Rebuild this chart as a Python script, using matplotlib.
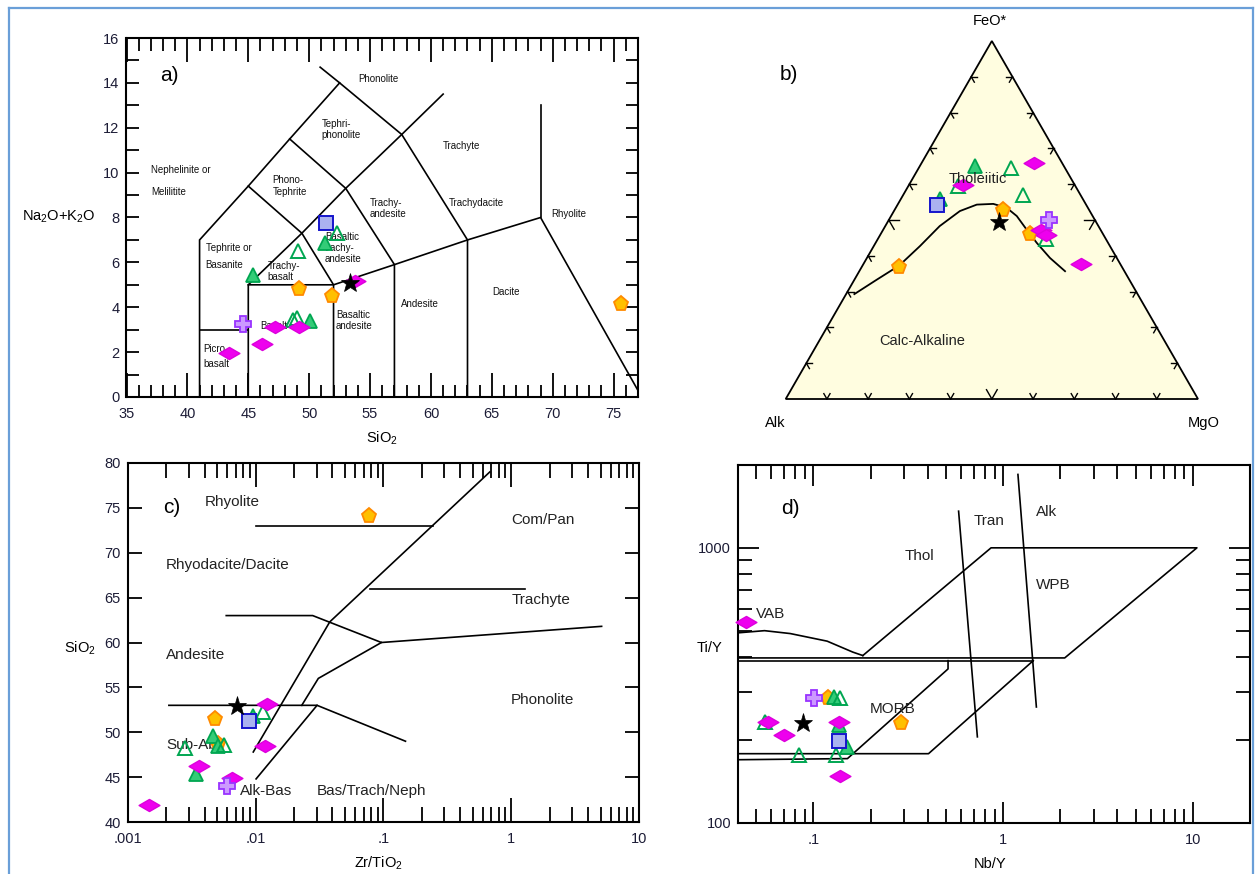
import numpy as np
import matplotlib
matplotlib.use('Agg')
from matplotlib import pyplot as plt
from matplotlib.path import Path
from matplotlib.patches import Polygon
from matplotlib.lines import Line2D
from matplotlib.ticker import MultipleLocator, LogLocator, FuncFormatter, NullFormatter

plt.rcParams['font.family'] = ['Liberation Sans', 'DejaVu Sans']
plt.rcParams['mathtext.fontset'] = 'custom'
plt.rcParams['mathtext.rm'] = 'Liberation Sans'
plt.rcParams['mathtext.default'] = 'regular'

W, H = 1257, 874
TICK_COLOR = '#1c1c36'

# ---------------- a) TAS: SiO2 vs Na2O+K2O ----------------
tas_lines = [
    [(41, 0), (41, 7), (45, 9.4), (48.4, 11.5), (52.5, 14), (57.6, 11.7), (63, 7), (63, 0)],
    [(50.9, 14.7), (52.5, 14)],
    [(41, 3), (45, 3)],
    [(45, 0), (45, 5), (49.4, 7.3), (53, 9.3), (57.6, 11.7), (61, 13.5)],
    [(45, 9.4), (49.4, 7.3), (52, 5), (52, 0)],
    [(45, 5), (52, 5), (57, 5.9), (63, 7), (69, 8), (77.3, 0)],
    [(48.4, 11.5), (53, 9.3), (57, 5.9), (57, 0)],
    [(69, 8), (69, 13)],
]
tas_labels = [
    ("Phonolite", 54.0, 14.16),
    ("Tephri-", 51.0, 12.17), ("phonolite", 51.0, 11.67),
    ("Trachyte", 61.0, 11.18),
    ("Nephelinite or", 37.0, 10.13), ("Melilitite", 37.0, 9.13),
    ("Phono-", 47.0, 9.67), ("Tephrite", 47.0, 9.13),
    ("Trachy-", 55.0, 8.63), ("andesite", 55.0, 8.14),
    ("Trachydacite", 61.5, 8.65),
    ("Rhyolite", 69.9, 8.14),
    ("Basaltic", 51.3, 7.14), ("trachy-", 51.3, 6.63), ("andesite", 51.3, 6.14),
    ("Tephrite or", 41.5, 6.63), ("Basanite", 41.5, 5.88),
    ("Trachy-", 46.6, 5.84), ("basalt", 46.6, 5.36),
    ("Andesite", 57.5, 4.14),
    ("Dacite", 65.0, 4.67),
    ("Basaltic", 52.2, 3.65), ("andesite", 52.2, 3.16),
    ("Basalt", 46.0, 3.16),
    ("Picro-", 41.3, 2.14), ("basalt", 41.3, 1.46),
]
a_diamond_x = [43.4, 46.1, 47.2, 49.2, 53.8]
a_diamond_y = [1.95, 2.38, 3.13, 3.13, 5.18]
a_trifill_x = [45.4, 51.3, 50.1]
a_trifill_y = [5.44, 6.86, 3.40]
a_triopen_x = [49.1, 52.3, 48.7, 49.0]
a_triopen_y = [6.52, 7.29, 3.43, 3.51]
a_pent_x = [49.2, 51.85, 75.6]
a_pent_y = [4.8, 4.5, 4.13]
a_plus_x, a_plus_y = [44.55], [3.26]
a_square_x, a_square_y = [51.38], [7.74]
a_star_x, a_star_y = [53.35], [5.09]

# ---------------- b) AFM ternary (Alk, FeO*, MgO in %) ----------------
afm_curve_A = [68.7, 61.3, 53.8, 46.1, 38.5, 31.5, 26.5, 22.4, 19.7, 18.4, 17.9, 17.3, 16.2, 14.4]
afm_curve_F = [29.3, 33.3, 37.3, 42.7, 48.3, 52.5, 54.3, 54.5, 53.4, 51.1, 47.3, 43.6, 39.4, 35.7]
afm_curve_M = [2.0, 5.4, 8.9, 11.2, 13.2, 16.0, 19.2, 23.1, 26.9, 30.5, 34.8, 39.1, 44.4, 49.9]
b_diamond = dict(A=[6.8, 27.1, 14.4, 14.1, 9.5], F=[65.8, 59.9, 47.3, 45.7, 37.8], M=[27.4, 13.0, 38.3, 40.2, 52.7])
b_trifill = dict(A=[21.6, 34.6], F=[65.1, 56.0], M=[13.3, 9.4])
b_triopen = dict(A=[13.1, 28.4, 13.8, 14.6], F=[64.6, 59.5, 57.1, 44.7], M=[22.3, 12.1, 29.1, 40.7])
b_pent = dict(A=[20.9, 17.7, 54.1], F=[52.7, 46.1, 36.8], M=[26.4, 36.2, 9.1])
b_plus = dict(A=[11.2], F=[49.9], M=[38.9])
b_square = dict(A=[36.2], F=[54.3], M=[9.5])
b_star = dict(A=[23.6], F=[49.4], M=[27.0])

# ---------------- c) Zr/TiO2 vs SiO2 ----------------
wf_lines = [
    [(0.01, 73), (0.245, 73)],
    [(0.0096, 47.8), (0.0381, 62.3), (0.68, 79)],
    [(0.0785, 66), (1.28, 66)],
    [(0.0059, 63), (0.028, 63), (0.0966, 60), (5.1, 61.8)],
    [(0.023, 53), (0.031, 56), (0.0966, 60)],
    [(0.0021, 53), (0.0303, 53), (0.149, 49)],
    [(0.0101, 44.8), (0.0303, 53)],
]
wf_labels = [
    ("Rhyolite", 0.0040, 75.6), ("Com/Pan", 1.0, 73.6),
    ("Rhyodacite/Dacite", 0.002, 68.6), ("Trachyte", 1.0, 64.7),
    ("Andesite", 0.002, 58.6), ("Phonolite", 1.0, 53.6),
    ("Sub-Ab", 0.002, 48.6), ("Alk-Bas", 0.0075, 43.5),
    ("Bas/Trach/Neph", 0.0303, 43.5),
]
c_diamond_x = [0.00148, 0.00361, 0.00652, 0.0122, 0.0119]
c_diamond_y = [41.9, 46.2, 44.9, 53.2, 48.5]
c_trifill_x = [0.00463, 0.0034, 0.0096, 0.0051]
c_trifill_y = [49.6, 45.35, 51.8, 48.5]
c_triopen_x = [0.0057, 0.00281, 0.0115]
c_triopen_y = [48.6, 48.2, 52.3]
c_pent_x = [0.0775, 0.00482, 0.00512]
c_pent_y = [74.1, 51.5, 48.7]
c_plus_x, c_plus_y = [0.00602], [44.0]
c_square_x, c_square_y = [0.00889], [51.2]
c_star_x, c_star_y = [0.00713], [52.9]

# ---------------- d) Nb/Y vs Ti/Y ----------------
pearce_lines = [
    [(0.04, 398), (2.11, 398), (10.5, 1000), (0.863, 1000), (0.182, 406)],
    [(0.04, 491), (0.0552, 500), (0.0755, 488), (0.118, 458), (0.161, 418), (0.182, 406)],
    [(0.04, 389), (1.44, 389)],
    [(0.04, 178.6), (0.404, 178.6), (1.44, 389)],
    [(0.04, 169.8), (0.151, 171.4), (0.512, 363), (0.512, 389)],
    [(0.582, 1359), (0.731, 205.6)],
    [(1.196, 1848), (1.496, 264)],
]
pearce_labels = [
    ("Tran", 0.697, 1250), ("Alk", 1.496, 1352), ("Thol", 0.302, 933),
    ("WPB", 1.496, 730), ("VAB", 0.05, 573), ("MORB", 0.199, 260),
]
d_diamond_x = [0.044, 0.0577, 0.070, 0.136, 0.138]
d_diamond_y = [537, 232, 208, 233, 148]
d_trifill_x = [0.128, 0.136, 0.151]
d_trifill_y = [287, 228, 189]
d_triopen_x = [0.0553, 0.138, 0.084, 0.132]
d_triopen_y = [232, 285, 176, 176]
d_pent_x = [0.1197, 0.288]
d_pent_y = [284, 231]
d_plus_x, d_plus_y = [0.1005], [285]
d_square_x, d_square_y = [0.137], [199]
d_star_x, d_star_y = [0.0883], [231]

# flat diamond used for one sample group
flat_diamond = Path([(-1, 0), (0, 0.58), (1, 0), (0, -0.58), (-1, 0)],
                    [Path.MOVETO, Path.LINETO, Path.LINETO, Path.LINETO, Path.CLOSEPOLY])
STYLE = {
    'pent': dict(marker='p', ms=11, mfc='#ffc000', mec='#ff8a00', mew=1.3),
    'trifill': dict(marker='^', ms=10, mfc='#33cc77', mec='#00a651', mew=1.3),
    'triopen': dict(marker='^', ms=10, mfc='none', mec='#00a651', mew=1.4),
    'diamond': dict(marker=flat_diamond, ms=15, mfc='#ee00ee', mec='#dd00dd', mew=1.0),
    'plus': dict(marker='P', ms=12, mfc='#cc99ff', mec='#9933ff', mew=1.3),
    'square': dict(marker='s', ms=9.5, mfc='#aab2f0', mec='#1515cc', mew=1.4),
    'star': dict(marker='*', ms=14, mfc='black', mec='black', mew=0.5),
}
ORDER = ['pent', 'trifill', 'triopen', 'diamond', 'plus', 'square', 'star']

fig = plt.figure(figsize=(W / 100, H / 100), dpi=100)


def px_axes(l, t, r, b):
    return fig.add_axes([l / W, 1 - b / H, (r - l) / W, (b - t) / H])


def ptext(x, y, s, **kw):
    fig.text(x / W, 1 - y / H, s, **kw)


def draw_points(ax, pts):
    for key in ORDER:
        if key in pts:
            x, y = pts[key]
            ax.plot(x, y, ls='none', zorder=5, clip_on=False, **STYLE[key])


def style_frame(ax):
    for sp in ax.spines.values():
        sp.set_linewidth(1.5)
    ax.tick_params(which='both', direction='in', top=True, right=True,
                   width=1.3, labelsize=10.5, labelcolor=TICK_COLOR)
    ax.tick_params(axis='x', which='both', pad=7)
    ax.tick_params(axis='y', which='both', pad=5)


def dec_fmt(v, pos):
    s = '%g' % v
    return s[1:] if s.startswith('0.') else s


# frame around the whole figure
for xs, ys in [([9, 9], [8, 874]), ([9, 1253], [8, 8]), ([1253, 1253], [8, 874])]:
    fig.add_artist(Line2D([x / W for x in xs], [1 - y / H for y in ys], color='#6a9fd8', lw=1.6))

# ---- panel a ----
ax = px_axes(126.5, 38, 638, 397)
ax.set_xlim(35, 77)
ax.set_ylim(0, 16)
for seg in tas_lines:
    xs, ys = zip(*seg)
    ax.plot(xs, ys, color='black', lw=1.2, solid_joinstyle='miter')
for s, x, y in tas_labels:
    ax.text(x, y, s, fontsize=7, ha='left', va='center', color='#111111')
ax.text(37.8, 14.35, 'a)', fontsize=15, ha='left', va='center')
style_frame(ax)
ax.xaxis.set_major_locator(MultipleLocator(5))
ax.xaxis.set_minor_locator(MultipleLocator(1))
ax.yaxis.set_major_locator(MultipleLocator(2))
ax.yaxis.set_minor_locator(MultipleLocator(1))
ax.tick_params(axis='x', which='major', length=17)
ax.tick_params(axis='x', which='minor', length=9)
ax.tick_params(axis='y', which='both', length=9)
draw_points(ax, {'diamond': (a_diamond_x, a_diamond_y), 'trifill': (a_trifill_x, a_trifill_y),
                 'triopen': (a_triopen_x, a_triopen_y), 'pent': (a_pent_x, a_pent_y),
                 'plus': (a_plus_x, a_plus_y), 'square': (a_square_x, a_square_y),
                 'star': (a_star_x, a_star_y)})
ptext(59, 217, 'Na$_2$O+K$_2$O', fontsize=10.5, ha='center', va='center')
ptext(382, 438, 'SiO$_2$', fontsize=10.5, ha='center', va='center')

# ---- panel b ----
h = np.sqrt(3) / 2


def tern(A, F, M):
    A, F, M = np.asarray(A, float), np.asarray(F, float), np.asarray(M, float)
    s = A + F + M
    return (M + F / 2) / s, F * h / s


ax = px_axes(785.7, 41, 1198, 399)
ax.set_xlim(0, 1)
ax.set_ylim(0, h)
ax.axis('off')
ax.add_patch(Polygon([(0, 0), (1, 0), (0.5, h)], closed=True, facecolor='#fffde0',
                     edgecolor='black', lw=1.3, clip_on=False, zorder=1))
corners = [((0, 0), (1, 0), (0, 1)), ((0, 0), (0.5, h), (h, -0.5)), ((1, 0), (0.5, h), (-h, -0.5))]
for p0, p1, n in corners:
    p0, p1, n = np.array(p0), np.array(p1), np.array(n)
    e = (p1 - p0) / np.linalg.norm(p1 - p0)
    for i in range(1, 10):
        p = p0 + (p1 - p0) * i / 10
        L = 0.026 if i == 5 else 0.015
        for sg in (1, -1):
            arm = n * np.cos(np.radians(30)) + sg * e * np.sin(np.radians(30))
            q = p + L * arm
            ax.plot([p[0], q[0]], [p[1], q[1]], color='black', lw=1.0, zorder=2, clip_on=False)
cx, cy = tern(afm_curve_A, afm_curve_F, afm_curve_M)
ax.plot(cx, cy, color='black', lw=1.3, zorder=3)
b_pts = {}
for key, d in [('diamond', b_diamond), ('trifill', b_trifill), ('triopen', b_triopen),
               ('pent', b_pent), ('plus', b_plus), ('square', b_square), ('star', b_star)]:
    b_pts[key] = tern(d['A'], d['F'], d['M'])
draw_points(ax, b_pts)
ptext(978, 179, 'Tholeiitic', fontsize=10.5, ha='center', va='center', color='#222222', zorder=4)
ptext(922, 341, 'Calc-Alkaline', fontsize=10.5, ha='center', va='center', color='#222222')
ptext(990, 21, 'FeO*', fontsize=10.5, ha='center', va='center')
ptext(775, 423, 'Alk', fontsize=10.5, ha='center', va='center')
ptext(1204, 423, 'MgO', fontsize=10.5, ha='center', va='center')
ptext(780, 75, 'b)', fontsize=15, ha='left', va='center')

# ---- panel c ----
ax = px_axes(127.7, 463, 639, 822)
ax.set_xscale('log')
ax.set_xlim(0.001, 10)
ax.set_ylim(40, 80)
for seg in wf_lines:
    xs, ys = zip(*seg)
    ax.plot(xs, ys, color='black', lw=1.2)
for s, x, y in wf_labels:
    ax.text(x, y, s, fontsize=11, ha='left', va='center', color='#222222')
ax.text(0.0019, 75.0, 'c)', fontsize=15, ha='left', va='center')
style_frame(ax)
ax.xaxis.set_major_locator(LogLocator(base=10, numticks=10))
ax.xaxis.set_minor_locator(LogLocator(base=10, subs=np.arange(2, 10), numticks=50))
ax.xaxis.set_major_formatter(FuncFormatter(dec_fmt))
ax.xaxis.set_minor_formatter(NullFormatter())
ax.yaxis.set_major_locator(MultipleLocator(5))
ax.tick_params(axis='x', which='major', length=17)
ax.tick_params(axis='x', which='minor', length=11)
ax.tick_params(axis='y', which='major', length=10)
draw_points(ax, {'diamond': (c_diamond_x, c_diamond_y), 'trifill': (c_trifill_x, c_trifill_y),
                 'triopen': (c_triopen_x, c_triopen_y), 'pent': (c_pent_x, c_pent_y),
                 'plus': (c_plus_x, c_plus_y), 'square': (c_square_x, c_square_y),
                 'star': (c_star_x, c_star_y)})
ptext(80, 648, 'SiO$_2$', fontsize=10.5, ha='center', va='center')
ptext(378, 863, 'Zr/TiO$_2$', fontsize=10.5, ha='center', va='center')

# ---- panel d ----
ax = px_axes(738, 465, 1250, 823)
ax.set_xscale('log')
ax.set_yscale('log')
ax.set_xlim(0.04, 20)
ax.set_ylim(100, 2000)
for seg in pearce_lines:
    xs, ys = zip(*seg)
    ax.plot(xs, ys, color='black', lw=1.2)
for s, x, y in pearce_labels:
    ax.text(x, y, s, fontsize=11, ha='left', va='center', color='#222222')
ax.text(0.0675, 1387, 'd)', fontsize=15, ha='left', va='center')
style_frame(ax)
for axis in (ax.xaxis, ax.yaxis):
    axis.set_major_locator(LogLocator(base=10, numticks=10))
    axis.set_minor_locator(LogLocator(base=10, subs=np.arange(2, 10), numticks=50))
    axis.set_major_formatter(FuncFormatter(dec_fmt))
    axis.set_minor_formatter(NullFormatter())
ax.tick_params(which='major', length=15)
ax.tick_params(which='minor', length=10)
draw_points(ax, {'diamond': (d_diamond_x, d_diamond_y), 'trifill': (d_trifill_x, d_trifill_y),
                 'triopen': (d_triopen_x, d_triopen_y), 'pent': (d_pent_x, d_pent_y),
                 'plus': (d_plus_x, d_plus_y), 'square': (d_square_x, d_square_y),
                 'star': (d_star_x, d_star_y)})
ptext(709, 648, 'Ti/Y', fontsize=10.5, ha='center', va='center')
ptext(990, 864, 'Nb/Y', fontsize=10.5, ha='center', va='center')

fig.savefig('out.png', dpi=100)
